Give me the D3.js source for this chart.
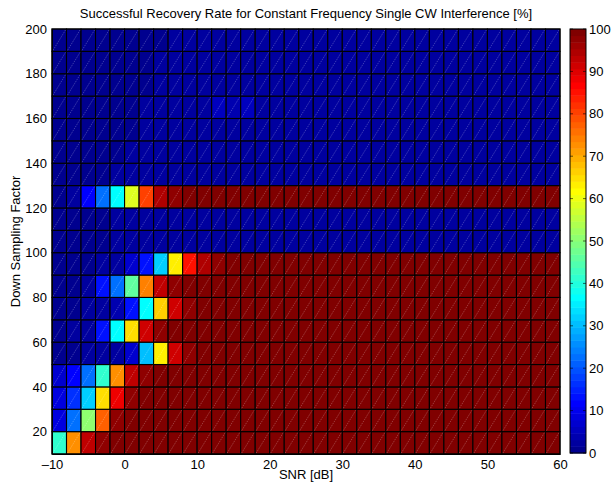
<!DOCTYPE html>
<html lang="en">
<head>
<meta charset="utf-8">
<title>Successful Recovery Rate</title>
<script src="https://cdn.jsdelivr.net/npm/d3@7"></script>
<style>
  body { margin: 0; background: #fff; }
  text { font-family: "Liberation Sans", Arial, Helvetica, sans-serif; }
</style>
</head>
<body>
<script>
// cell edges
var snrEdges = [-10,-8,-6,-4,-2,0,2,4,6,8,10,12,14,16,18,20,22,24,26,28,30,32,34,36,38,40,42,44,46,48,50,52,54,56,58,60];
var dsEdges = [10,20,30,40,50,60,70,80,90,100,110,120,130,140,150,160,170,180,190,200];

// recovery rate [%], one row per down sampling band (bottom to top), 35 SNR bands each
var rate = [
  [42,72,93,98,100,100,100,100,100,100,100,100,100,100,100,100,100,100,100,100,100,100,100,100,100,100,100,100,100,100,100,100,100,100,100],
  [9,22,51,78,97,100,100,100,100,100,100,100,100,100,100,100,100,100,100,100,100,100,100,100,100,100,100,100,100,100,100,100,100,100,100],
  [8,17,32,65,89,97,100,100,100,100,100,100,100,100,100,100,100,100,100,100,100,100,100,100,100,100,100,100,100,100,100,100,100,100,100],
  [7,12,22,42,72,93,98,100,100,100,100,100,100,100,100,100,100,100,100,100,100,100,100,100,100,100,100,100,100,100,100,100,100,100,100],
  [1,1,2,2,3,7,30,63,92,98,100,100,100,100,100,100,100,100,100,100,100,100,100,100,100,100,100,100,100,100,100,100,100,100,100],
  [1,2,2,14,37,65,92,98,100,100,100,100,100,100,100,100,100,100,100,100,100,100,100,100,100,100,100,100,100,100,100,100,100,100,100],
  [1,1,2,2,4,14,37,66,92,98,100,100,100,100,100,100,100,100,100,100,100,100,100,100,100,100,100,100,100,100,100,100,100,100,100],
  [1,1,3,13,22,46,74,93,98,100,100,100,100,100,100,100,100,100,100,100,100,100,100,100,100,100,100,100,100,100,100,100,100,100,100],
  [1,1,1,2,2,7,14,32,63,85,95,98,100,100,100,100,100,100,100,100,100,100,100,100,100,100,100,100,100,100,100,100,100,100,100],
  [1,1,1,1,2,2,2,2,2,2,2,2,2,2,2,2,2,2,2,2,2,2,2,2,2,2,2,2,2,2,2,2,2,2,2],
  [1,1,1,1,2,2,2,2,2,2,2,2,2,2,2,2,2,2,2,2,2,2,2,2,2,2,2,2,2,2,2,2,2,2,2],
  [1,3,12,22,37,59,80,94,97,100,100,100,100,100,100,100,100,100,100,100,100,100,100,100,100,100,100,100,100,100,100,100,100,100,100],
  [1,1,1,1,2,2,2,2,2,2,2,2,2,2,2,2,2,2,2,2,2,2,2,2,2,2,2,2,2,2,2,2,2,2,2],
  [1,1,1,1,1,2,2,2,2,2,2,2,2,2,2,2,2,2,2,2,2,2,2,2,2,2,2,2,2,2,2,2,2,2,2],
  [1,1,1,1,1,1,2,2,2,2,2,2,2,2,2,2,2,2,2,2,2,2,2,2,2,2,2,2,2,2,2,2,2,2,2],
  [1,1,1,1,1,1,2,2,2,2,3,5,4,5,3,2,2,2,2,2,2,2,2,2,2,2,2,2,2,2,2,2,2,2,2],
  [1,1,1,1,1,1,1,2,2,2,2,2,2,2,2,2,2,2,2,2,2,2,2,2,2,2,2,2,2,2,2,2,2,2,2],
  [1,1,1,1,1,1,1,2,2,2,2,2,2,2,2,2,2,2,2,2,2,2,2,2,2,2,2,2,2,2,2,2,2,2,2],
  [1,1,1,1,1,1,1,1,2,2,2,2,2,2,2,2,2,2,2,2,2,2,2,2,2,2,2,2,2,2,2,2,2,2,2]
];

var xTicks = [-10,0,10,20,30,40,50,60];
var yTicks = [20,40,60,80,100,120,140,160,180,200];
var cTicks = [0,10,20,30,40,50,60,70,80,90,100];

var w = 611, h = 486;

// matlab jet(64)
function jet64(k) { // k = 1..64
  var r, g, b;
  if (k <= 8) { r = 0; g = 0; b = 0.5 + k / 16; }
  else if (k <= 24) { r = 0; g = (k - 8) / 16; b = 1; }
  else if (k <= 40) { r = (k - 24) / 16; g = 1; b = 1 - (k - 24) / 16; }
  else if (k <= 56) { r = 1; g = 1 - (k - 40) / 16; b = 0; }
  else { r = 1 - (k - 56) / 16; g = 0; b = 0; }
  return d3.rgb(r * 255, g * 255, b * 255).toString();
}
var colorIndex = d3.scaleQuantize().domain([0, 100]).range(d3.range(1, 65));
function color(v) { return jet64(colorIndex(Math.min(v, 99.999))); }

var x = d3.scaleLinear().domain([-10, 60]).range([52, 560]);
var y = d3.scaleLinear().domain([10, 200]).range([454, 29]);
var c = d3.scaleLinear().domain([0, 100]).range([453, 29]);

var svg = d3.select("body").append("svg")
  .attr("width", w)
  .attr("height", h);

// cells
var cells = [];
rate.forEach(function(row, i) {
  row.forEach(function(v, j) {
    cells.push({x0: snrEdges[j], x1: snrEdges[j + 1], y0: dsEdges[i], y1: dsEdges[i + 1], v: v});
  });
});

var g = svg.append("g");
g.selectAll("rect.cell")
  .data(cells)
  .enter().append("rect")
  .attr("class", "cell")
  .attr("x", function(d) { return x(d.x0); })
  .attr("y", function(d) { return y(d.y1); })
  .attr("width", function(d) { return x(d.x1) - x(d.x0); })
  .attr("height", function(d) { return y(d.y0) - y(d.y1); })
  .attr("fill", function(d) { return color(d.v); })
  .attr("stroke", "#000")
  .attr("stroke-width", 1.1);

// faint triangle seams
g.selectAll("line.seam")
  .data(cells)
  .enter().append("line")
  .attr("class", "seam")
  .attr("x1", function(d) { return x(d.x0) + 1; })
  .attr("y1", function(d) { return y(d.y0) - 1; })
  .attr("x2", function(d) { return x(d.x1) - 1; })
  .attr("y2", function(d) { return y(d.y1) + 1; })
  .attr("stroke", "#fff")
  .attr("stroke-opacity", 0.3)
  .attr("stroke-width", 0.8)
  .attr("stroke-dasharray", "1.5,1");

// axes
var xAxis = d3.axisBottom(x).tickValues(xTicks).tickSize(0).tickPadding(6)
  .tickFormat(function(d) { return d < 0 ? "\u2013" + Math.abs(d) : d; });
var yAxis = d3.axisLeft(y).tickValues(yTicks).tickSize(0).tickPadding(5);

var gx = svg.append("g").attr("transform", "translate(0," + 454 + ")").call(xAxis);
var gy = svg.append("g").attr("transform", "translate(52,0)").call(yAxis);
[gx, gy].forEach(function(a) {
  a.select(".domain").attr("stroke", "#000");
  a.selectAll("text").attr("font-size", 13).attr("fill", "#000")
    .style("font-family", "'Liberation Sans', Arial, sans-serif");
});

svg.append("rect")
  .attr("x", 52).attr("y", 29).attr("width", 508).attr("height", 425)
  .attr("fill", "none").attr("stroke", "#000").attr("stroke-width", 1);

// colorbar
var bands = d3.range(1, 65);
svg.append("g").selectAll("rect")
  .data(bands)
  .enter().append("rect")
  .attr("x", 570)
  .attr("width", 16)
  .attr("y", function(k) { return c(k * 100 / 64); })
  .attr("height", function(k) { return c((k - 1) * 100 / 64) - c(k * 100 / 64) + 0.5; })
  .attr("fill", function(k) { return jet64(k); });

svg.append("rect")
  .attr("x", 570).attr("y", 29).attr("width", 16).attr("height", 424)
  .attr("fill", "none").attr("stroke", "#000").attr("stroke-width", 1);

var ct = svg.append("g").selectAll("g")
  .data(cTicks)
  .enter().append("g");
ct.append("line")
  .attr("x1", 570).attr("x2", 573)
  .attr("y1", function(d) { return c(d); }).attr("y2", function(d) { return c(d); })
  .attr("stroke", "#000").attr("stroke-opacity", 0.6);
ct.append("line")
  .attr("x1", 583).attr("x2", 586)
  .attr("y1", function(d) { return c(d); }).attr("y2", function(d) { return c(d); })
  .attr("stroke", "#000").attr("stroke-opacity", 0.6);
ct.append("text")
  .attr("x", 589)
  .attr("y", function(d) { return c(d); })
  .attr("dy", "0.36em")
  .attr("font-size", 13)
  .text(function(d) { return d; });

// labels
svg.append("text")
  .attr("x", 306).attr("y", 18)
  .attr("text-anchor", "middle")
  .attr("font-size", 13)
  .text("Successful Recovery Rate for Constant Frequency Single CW Interference [%]");

svg.append("text")
  .attr("x", 306).attr("y", 479)
  .attr("text-anchor", "middle")
  .attr("font-size", 13)
  .text("SNR [dB]");

svg.append("text")
  .attr("transform", "translate(20,241.5) rotate(-90)")
  .attr("text-anchor", "middle")
  .attr("font-size", 13)
  .text("Down Sampling Factor");
</script>
</body>
</html>
